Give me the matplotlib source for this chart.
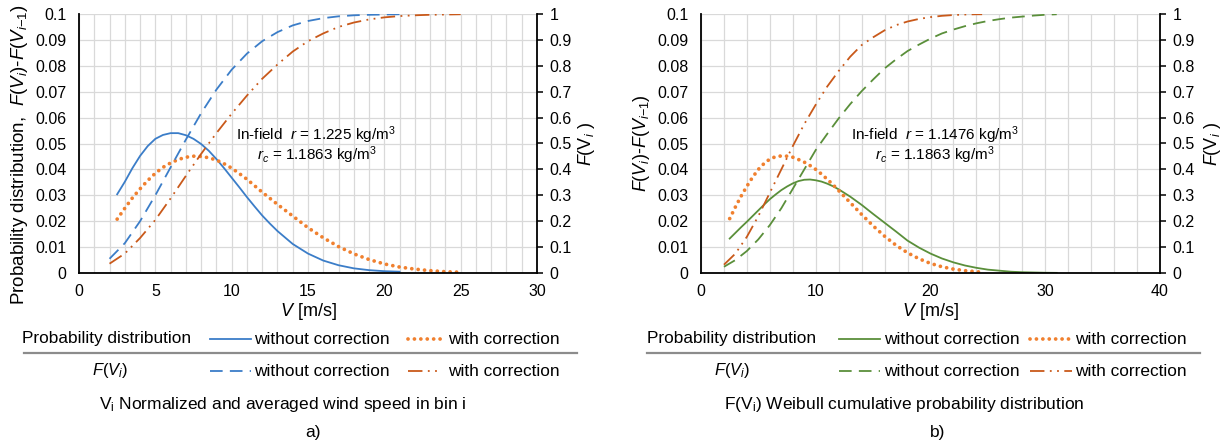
import matplotlib
matplotlib.use("Agg")
import matplotlib.pyplot as plt
from matplotlib.lines import Line2D
from matplotlib.ticker import MultipleLocator, FuncFormatter

plt.rcParams["font.family"] = ["Liberation Sans", "DejaVu Sans"]
plt.rcParams["mathtext.fontset"] = "custom"
plt.rcParams["mathtext.rm"] = "Liberation Sans"
plt.rcParams["mathtext.it"] = "Liberation Sans:italic"

# ---- data: panel a) ----
v_pdf_a0 = [2.5, 3, 3.5, 4, 4.5, 5, 5.5, 6, 6.5, 7, 7.5, 8, 8.5, 9, 9.5, 10, 10.5, 11, 11.5,
            12, 12.5, 13, 14, 15, 16, 17, 18, 19, 20, 21]
pdf_a0 = [0.0304, 0.0352, 0.0405, 0.0452, 0.0490, 0.0518, 0.0533, 0.0540, 0.0540, 0.0532,
          0.0518, 0.0498, 0.0472, 0.0440, 0.0405, 0.0368, 0.0331, 0.0293, 0.0257, 0.0222,
          0.0191, 0.0162, 0.0112, 0.0075, 0.0048, 0.0030, 0.0018, 0.0011, 0.0007, 0.0005]
v_pdf_a1 = [2.5, 3, 3.5, 4, 4.5, 5, 5.5, 6, 6.5, 7, 7.5, 8, 8.5, 9, 9.5, 10, 10.5, 11, 11.5,
            12, 13, 14, 15, 16, 17, 18, 19, 20, 21, 22, 23, 24, 25]
pdf_a1 = [0.0208, 0.0250, 0.0290, 0.0325, 0.0357, 0.0385, 0.0408, 0.0425, 0.0438, 0.0447,
          0.0451, 0.0450, 0.0445, 0.0436, 0.0422, 0.0405, 0.0384, 0.0362, 0.0337, 0.0312,
          0.0265, 0.0220, 0.0175, 0.0136, 0.0102, 0.0074, 0.0052, 0.0035, 0.0023, 0.0015,
          0.0009, 0.0005, 0.0003]
v_cdf_a0 = [2, 3, 4, 5, 6, 7, 8, 9, 10, 11, 12, 13, 14, 15, 16, 17, 18, 19, 20, 21]
cdf_a0 = [0.055, 0.115, 0.200, 0.300, 0.408, 0.515, 0.617, 0.708, 0.785, 0.847, 0.895,
          0.930, 0.956, 0.973, 0.984, 0.991, 0.995, 0.997, 0.998, 0.999]
v_cdf_a1 = [2, 3, 4, 5, 6, 7, 8, 9, 10, 11, 12, 13, 14, 15, 16, 17, 18, 19, 20, 21, 22, 23, 24, 25]
cdf_a1 = [0.036, 0.075, 0.135, 0.205, 0.288, 0.375, 0.460, 0.540, 0.615, 0.685, 0.750,
          0.805, 0.855, 0.895, 0.925, 0.950, 0.967, 0.979, 0.987, 0.992, 0.995, 0.997,
          0.998, 0.999]

# ---- data: panel b) ----
v_pdf_b0 = [2.5, 3, 3.5, 4, 4.5, 5, 5.5, 6, 6.5, 7, 7.5, 8, 8.5, 9, 9.5, 10, 10.5, 11, 11.5,
            12, 12.5, 13, 14, 15, 16, 17, 18, 19, 20, 21, 22, 23, 24, 25, 26, 27, 28, 29,
            30, 31]
pdf_b0 = [0.0133, 0.0155, 0.0177, 0.0198, 0.0220, 0.0242, 0.0264, 0.0285, 0.0303, 0.0320,
          0.0334, 0.0346, 0.0355, 0.0360, 0.0361, 0.0358, 0.0353, 0.0345, 0.0335, 0.0323,
          0.0309, 0.0295, 0.0263, 0.0228, 0.0194, 0.0160, 0.0125, 0.0098, 0.0075, 0.0056,
          0.0041, 0.0029, 0.0020, 0.0013, 0.0009, 0.0005, 0.0003, 0.0002, 0.0001, 0.00005]
v_pdf_b1 = [2.5, 3, 3.5, 4, 4.5, 5, 5.5, 6, 6.5, 7, 7.5, 8, 8.5, 9, 9.5, 10, 10.5, 11, 11.5,
            12, 13, 14, 15, 16, 17, 18, 19, 20, 21, 22, 23, 24, 24.5]
pdf_b1 = [0.0210, 0.0255, 0.0297, 0.0335, 0.0370, 0.0400, 0.0423, 0.0440, 0.0449, 0.0452,
          0.0451, 0.0447, 0.0438, 0.0428, 0.0415, 0.0400, 0.0382, 0.0362, 0.0341, 0.0318,
          0.0272, 0.0226, 0.0182, 0.0142, 0.0107, 0.0078, 0.0055, 0.0037, 0.0024, 0.0015,
          0.0009, 0.0005, 0.0003]
v_cdf_b0 = [2, 3, 4, 5, 6, 7, 8, 9, 10, 11, 12, 13, 14, 15, 16, 17, 18, 19, 20, 21,
            22, 23, 24, 25, 26, 27, 28, 29, 30, 31]
cdf_b0 = [0.024, 0.050, 0.085, 0.130, 0.185, 0.250, 0.325, 0.400, 0.475, 0.537, 0.597,
          0.652, 0.702, 0.747, 0.790, 0.825, 0.857, 0.882, 0.905, 0.925, 0.940, 0.953,
          0.964, 0.973, 0.980, 0.986, 0.990, 0.994, 0.997, 0.999]
v_cdf_b1 = [2, 3, 4, 5, 6, 7, 8, 9, 10, 11, 12, 13, 14, 15, 16, 17, 18, 19, 20, 21,
            22, 23, 24, 24.5]
cdf_b1 = [0.032, 0.075, 0.140, 0.220, 0.310, 0.400, 0.490, 0.575, 0.650, 0.720, 0.780,
          0.835, 0.880, 0.910, 0.937, 0.957, 0.971, 0.981, 0.988, 0.993, 0.996, 0.998,
          0.999, 0.999]

BLUE = "#3b7dc8"
ORANGE = "#f0802f"
DKORANGE = "#c9591a"
GREEN = "#5a8f3a"
GRID = "#d9d9d9"

SOLID = dict(ls="-", lw=1.3)
DOTTED = dict(ls=(0, (0.01, 1.7)), lw=2.7, dash_capstyle="round")
DASHED = dict(ls=(0, (7, 4)), lw=1.3)
DASHDOT2 = dict(ls=(0, (8, 3, 1, 3, 1, 3)), lw=1.3)

NARROW = ["Liberation Sans Narrow", "Liberation Sans"]

W, H = 1225, 441
fig = plt.figure(figsize=(W / 100, H / 100), dpi=100)


def fmt(v, _):
    return ("%.2f" % v).rstrip("0").rstrip(".")


def make_panel(x0, x1, xmax, xmajor, xminor):
    ax = fig.add_axes([x0 / W, 1 - 273 / H, (x1 - x0) / W, 259 / H])
    ax.set_xlim(0, xmax)
    ax.set_ylim(0, 0.1)
    ax.xaxis.set_major_locator(MultipleLocator(xmajor))
    ax.xaxis.set_minor_locator(MultipleLocator(xminor))
    ax.yaxis.set_major_locator(MultipleLocator(0.01))
    ax.yaxis.set_major_formatter(FuncFormatter(fmt))
    ax.grid(True, which="both", color=GRID, lw=0.9)
    ax.set_axisbelow(True)
    ax.tick_params(which="both", length=0, labelsize=11.5)
    ax.tick_params(axis="y", pad=9)
    ax.tick_params(axis="x", pad=8)
    for s in ["left", "bottom"]:
        ax.spines[s].set_linewidth(1.3)
    ax.spines["top"].set_visible(False)
    ax.spines["right"].set_visible(False)
    ax2 = ax.twinx()
    ax2.set_ylim(0, 1)
    ax2.yaxis.set_major_locator(MultipleLocator(0.1))
    ax2.yaxis.set_major_formatter(FuncFormatter(fmt))
    ax2.tick_params(length=4, width=1.1, labelsize=11.5, pad=5)
    ax2.spines["right"].set_linewidth(1.3)
    for s in ["left", "bottom", "top"]:
        ax2.spines[s].set_visible(False)
    ax.set_xlabel(r"$V$ [m/s]", fontsize=13, va="center")
    ax.xaxis.set_label_coords(0.5, -0.147)
    return ax, ax2


# panel a)
axa, axa2 = make_panel(79, 537, 30, 5, 1)
axa.plot(v_pdf_a0, pdf_a0, color=BLUE, **SOLID)
axa.plot(v_pdf_a1, pdf_a1, color=ORANGE, **DOTTED)
axa2.plot(v_cdf_a0, cdf_a0, color=BLUE, **DASHED)
axa2.plot(v_cdf_a1, cdf_a1, color=DKORANGE, **DASHDOT2)
axa.set_ylabel(r"Probability distribution,  $F$($V_i$)-$F$($V_{i\mathrm{-}1}$)",
               fontsize=13.5, va="center")
axa.yaxis.set_label_coords(-0.129, 0.456)
axa2.set_ylabel(r"$F$(V$_i$ )", fontsize=13, va="center")
axa2.yaxis.set_label_coords(1.109, 0.5)
axa.text(15.5, 0.0533, r"In-field  $r$ = 1.225 kg/m$^3$", ha="center", va="center",
         fontsize=11, family=NARROW)
axa.text(15.6, 0.0456, r"$r_c$ = 1.1863 kg/m$^3$", ha="center", va="center",
         fontsize=11, family=NARROW)

# panel b)
axb, axb2 = make_panel(701, 1160, 40, 10, 2)
axb.plot(v_pdf_b0, pdf_b0, color=GREEN, **SOLID)
axb.plot(v_pdf_b1, pdf_b1, color=ORANGE, **DOTTED)
axb2.plot(v_cdf_b0, cdf_b0, color=GREEN, **DASHED)
axb2.plot(v_cdf_b1, cdf_b1, color=DKORANGE, **DASHDOT2)
axb.set_ylabel(r"$F$($V_i$)-$F$($V_{i\mathrm{-}1}$)", fontsize=13, va="center")
axb.yaxis.set_label_coords(-0.129, 0.5)
axb2.set_ylabel(r"$F$(V$_i$ )", fontsize=13, va="center")
axb2.yaxis.set_label_coords(1.115, 0.5)
axb.text(20.4, 0.0533, r"In-field  $r$ = 1.1476 kg/m$^3$", ha="center", va="center",
         fontsize=11, family=NARROW)
axb.text(20.4, 0.0456, r"$r_c$ = 1.1863 kg/m$^3$", ha="center", va="center",
         fontsize=11, family=NARROW)


# legend tables under each panel
def legend_table(c0, rule, sample1, text1, sample2, text2, ca, cb, caption, cap_x, tag, tag_x):
    def fx(px):
        return px / W

    def fy(py):
        return 1 - py / H

    y1, y2 = 339, 371
    fs = 12.4
    fig.text(fx(c0), fy(y1), "Probability distribution", fontsize=fs, va="center")
    fig.text(fx(ca), fy(y2), r"$F$($V_i$)", fontsize=fs - 0.5, va="center", ha="center")
    fig.add_artist(Line2D([fx(rule[0]), fx(rule[1])], [fy(353), fy(353)],
                          color="#8c8c8c", lw=1.6, transform=fig.transFigure))
    rows = [(y1, cb[0], cb[1]), (y2, cb[2], cb[3])]
    for (yy, st_a, st_b) in rows:
        fig.add_artist(Line2D([fx(sample1[0]), fx(sample1[1])], [fy(yy), fy(yy)],
                              transform=fig.transFigure, **st_a))
        fig.text(fx(text1), fy(yy), "without correction", fontsize=fs, va="center")
        fig.add_artist(Line2D([fx(sample2[0]), fx(sample2[1])], [fy(yy), fy(yy)],
                              transform=fig.transFigure, **st_b))
        fig.text(fx(text2), fy(yy), "with correction", fontsize=fs, va="center")
    fig.text(fx(cap_x), fy(405), caption, fontsize=12.5, ha="center", va="center")
    fig.text(fx(tag_x), fy(432), tag, fontsize=12.5, ha="center", va="center")


legend_table(22, (24, 577), (210, 251), 254, (408, 442), 448, 110,
             [dict(color=BLUE, **SOLID), dict(color=ORANGE, **DOTTED),
              dict(color=BLUE, **DASHED), dict(color=DKORANGE, **DASHDOT2)],
             r"V$_\mathrm{i}$ Normalized and averaged wind speed in bin i", 283, "a)", 313)
legend_table(647, (647, 1200), (839, 880), 884, (1030, 1072), 1075, 732,
             [dict(color=GREEN, **SOLID), dict(color=ORANGE, **DOTTED),
              dict(color=GREEN, **DASHED), dict(color=DKORANGE, **DASHDOT2)],
             r"F(V$_\mathrm{i}$) Weibull cumulative probability distribution", 904, "b)", 938)

fig.savefig("out.png", dpi=100)
